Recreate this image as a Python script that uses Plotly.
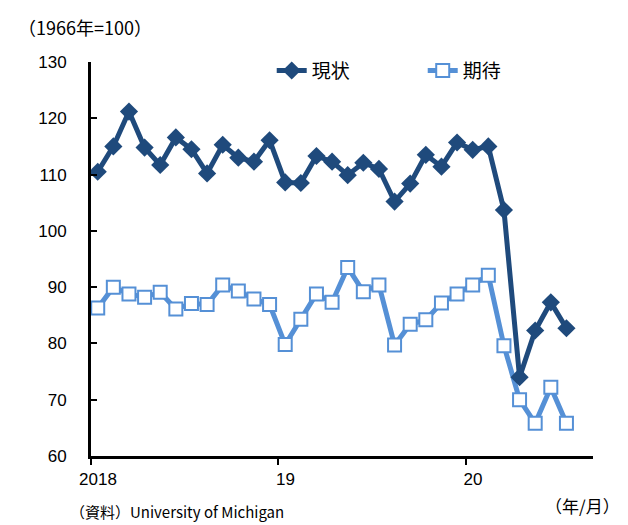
import plotly.graph_objects as go

# University of Michigan consumer sentiment components, monthly 2018/01 - 2020/07
months = list(range(31))
current = [110.5, 115.0, 121.2, 114.8, 111.7, 116.6, 114.5, 110.2, 115.3, 113.0,
           112.3, 116.1, 108.6, 108.5, 113.3, 112.3, 109.9, 112.1, 111.0, 105.2,
           108.4, 113.5, 111.4, 115.7, 114.4, 115.0, 103.7, 74.0, 82.3, 87.3, 82.7]
expect = [86.3, 90.0, 88.8, 88.2, 89.1, 86.1, 87.1, 86.9, 90.4, 89.3,
          87.9, 86.9, 79.8, 84.3, 88.8, 87.3, 93.5, 89.2, 90.4, 79.7,
          83.4, 84.2, 87.2, 88.8, 90.4, 92.1, 79.6, 70.0, 65.8, 72.2, 65.8]
year_labels = ["2018", "19", "20"]
year_start = [0, 12, 24]

DARK = "#1F4A7C"
LIGHT = "#5590D6"
FONT = "Liberation Sans, Noto Sans CJK JP, sans-serif"

fig = go.Figure()
fig.add_trace(go.Scatter(
    x=months, y=expect, name="期待", mode="lines+markers", legendrank=2,
    line=dict(color=LIGHT, width=5),
    marker=dict(symbol="square", size=13, color="white",
                line=dict(color=LIGHT, width=2)),
))
fig.add_trace(go.Scatter(
    x=months, y=current, name="現状", mode="lines+markers", legendrank=1,
    line=dict(color=DARK, width=5),
    marker=dict(symbol="diamond", size=14, color=DARK),
))

off = 0.43
fig.update_layout(
    width=628, height=525,
    margin=dict(l=91, r=35, t=62, b=69),
    plot_bgcolor="white", paper_bgcolor="white",
    font=dict(family=FONT, size=17, color="black"),
    showlegend=True,
    legend=dict(orientation="h", x=0.36, y=0.978, xanchor="left", yanchor="middle",
                font=dict(size=19, family="Noto Sans CJK JP"),
                bgcolor="rgba(0,0,0,0)", entrywidth=106, entrywidthmode="pixels",
                itemwidth=30, tracegroupgap=0),
    xaxis=dict(
        range=[-off, 31.7], showgrid=False, zeroline=False,
        showline=True, linecolor="black", linewidth=3,
        tickmode="array", tickvals=[s - off for s in year_start], ticktext=year_labels,
        ticks="outside", ticklen=6, tickwidth=2, tickcolor="black",
        ticklabelshift=7,
        tickfont=dict(size=17),
    ),
    yaxis=dict(
        range=[60, 130], dtick=10, showgrid=False, zeroline=False,
        showline=True, linecolor="black", linewidth=3,
        ticks="inside", ticklen=6, tickwidth=2, tickcolor="black",
        ticklabelstandoff=18,
        tickfont=dict(size=17),
    ),
    annotations=[
        dict(text="（1966年=100）", xref="paper", yref="paper", x=-0.012, y=1.09,
             xanchor="center", yanchor="middle", showarrow=False,
             font=dict(size=18, family="Noto Sans CJK JP")),
        dict(text="（年/月）", xref="paper", yref="paper", x=0.98, y=-0.125,
             xanchor="center", yanchor="middle", showarrow=False,
             font=dict(size=17, family="Noto Sans CJK JP")),
        dict(text="（資料）University of Michigan", xref="paper", yref="paper",
             x=-0.045, y=-0.14, xanchor="left", yanchor="middle", showarrow=False,
             font=dict(size=15, family="Noto Sans CJK JP")),
    ],
)

fig.write_html("out.html")
